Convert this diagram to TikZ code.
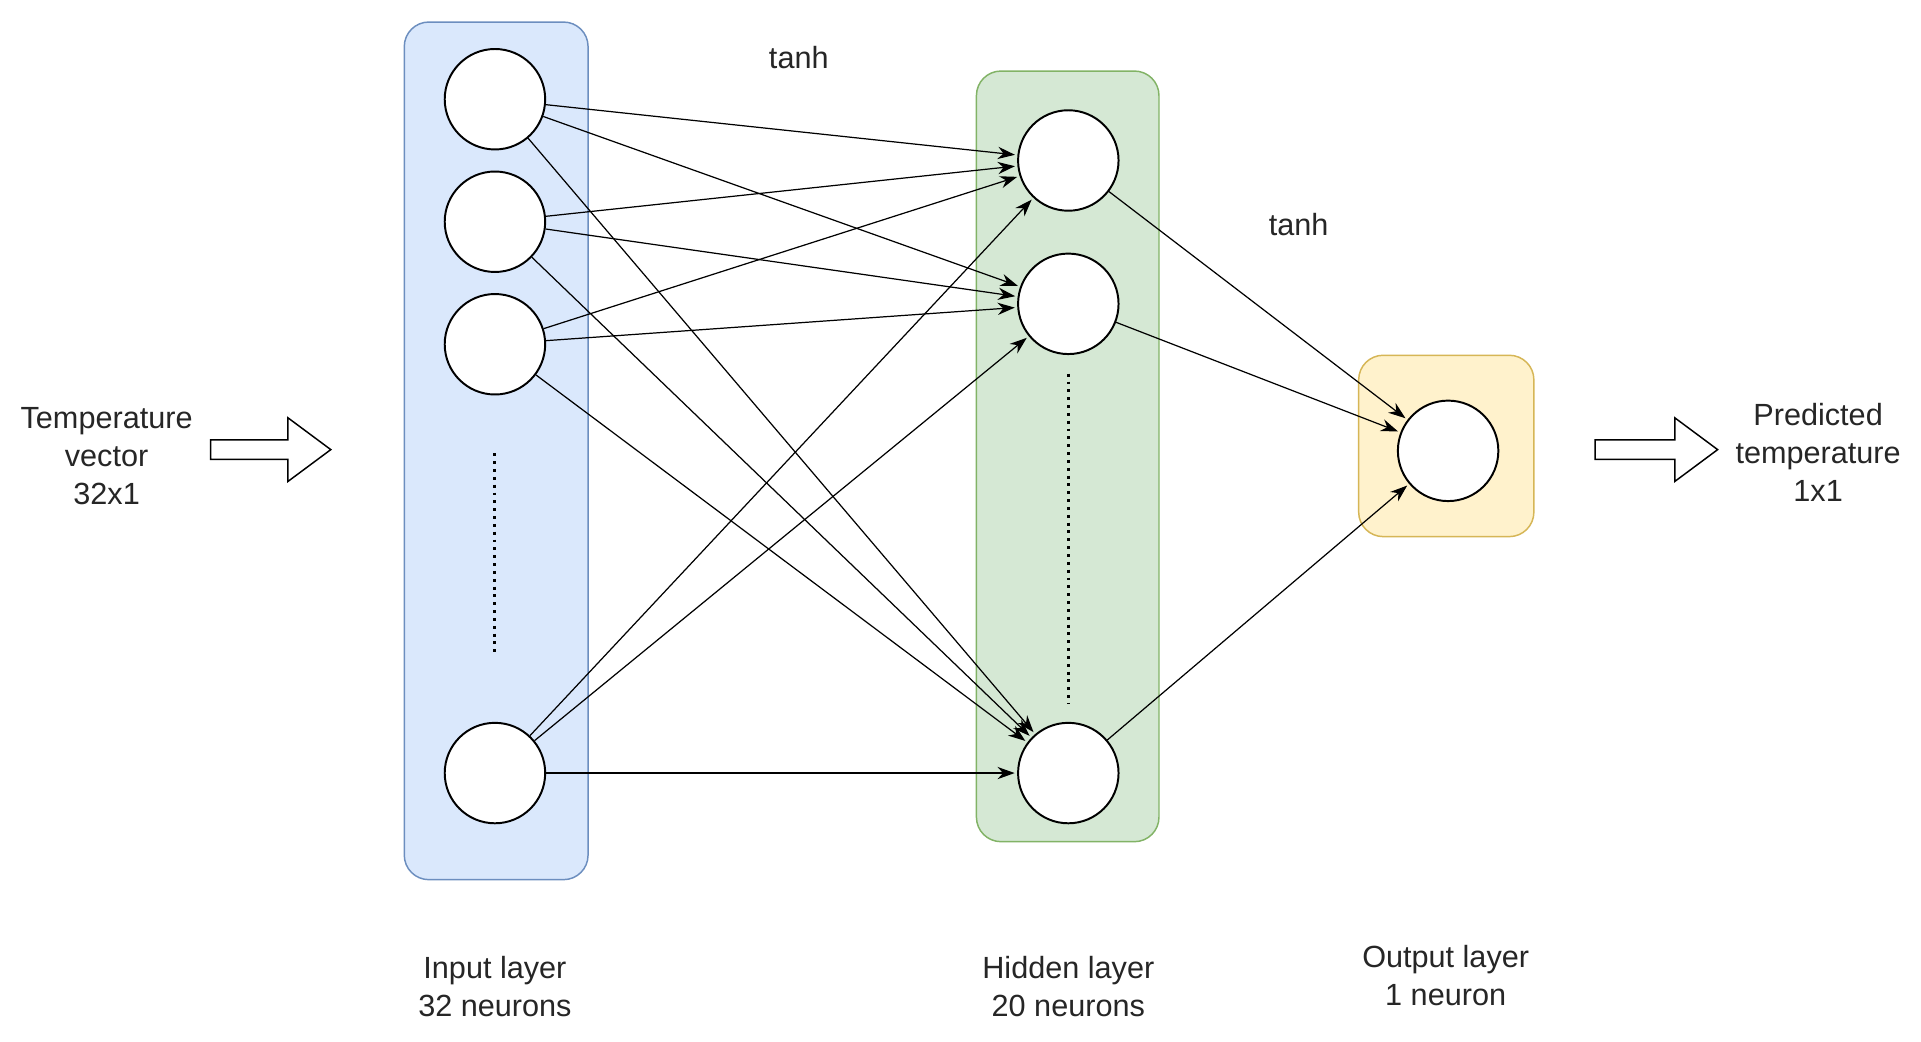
\documentclass[tikz,border=0pt]{standalone}
\usepackage{fontspec}
\setmainfont{Liberation Sans}
\usetikzlibrary{arrows.meta}
\definecolor{bfill}{HTML}{DAE8FC}\definecolor{bline}{HTML}{6C8EBF}
\definecolor{gfill}{HTML}{D5E8D4}\definecolor{gline}{HTML}{82B366}
\definecolor{yfill}{HTML}{FFF2CC}\definecolor{yline}{HTML}{D6B656}
\begin{document}
\begin{tikzpicture}[x=0.5pt,y=-0.5pt,
 neuron/.style={circle,draw,fill=white,line width=0.8pt,minimum size=41pt,inner sep=0pt},
 layer/.style={rounded corners=10pt,line width=0.6pt},
 conn/.style={-{Stealth[length=7pt,width=5pt]},line width=0.5pt,shorten >=1pt},
 lbl/.style={font=\fontsize{12.5pt}{15.5pt}\selectfont,align=center,text=black!85},
 barrow/.style={draw,fill=white,line width=0.6pt}]
\useasboundingbox (0,0) rectangle (1568,850);
\fill[white] (0,0) rectangle (1568,850);
\draw[layer,fill=bfill,draw=bline] (330,18) rectangle (480,718);
\draw[layer,fill=gfill,draw=gline] (797,58) rectangle (946,687);
\draw[layer,fill=yfill,draw=yline] (1109,290) rectangle (1252,438);
\foreach \n/\y in {i1/81,i2/181,i3/281,i4/631}{\node[neuron] (\n) at (404,\y) {};}
\foreach \n/\y in {h1/131,h2/248,h3/631}{\node[neuron] (\n) at (872,\y) {};}
\node[neuron] (o) at (1182,368) {};
\draw[dotted,line width=1.2pt] (404,370) -- (404,535);
\draw[dotted,line width=1.2pt] (872,305) -- (872,575);
\foreach \i in {i1,i2,i3,i4}{\foreach \h in {h1,h2,h3}{\draw[conn] (\i) -- (\h);}}
\foreach \h in {h1,h2,h3}{\draw[conn] (\h) -- (o);}
\node[lbl] (t1) at (652,47) {tanh};
\node[lbl] (t2) at (1060,183) {tanh};
\node[lbl] (tv) at (87,372) {Temperature\\vector\\32x1};
\node[lbl] (pt) at (1484,369) {Predicted\\temperature\\1x1};
\node[lbl] (li) at (404,805) {Input layer\\32 neurons};
\node[lbl] (lh) at (872,805) {Hidden layer\\20 neurons};
\node[lbl] (lo) at (1180,796) {Output layer\\1 neuron};
\draw[barrow] (172,359) -- (235,359) -- (235,341) -- (270,367) -- (235,393) -- (235,375) -- (172,375) -- cycle;
\draw[barrow] (1302,359) -- (1367,359) -- (1367,341) -- (1402,367) -- (1367,393) -- (1367,375) -- (1302,375) -- cycle;
\end{tikzpicture}
\end{document}
